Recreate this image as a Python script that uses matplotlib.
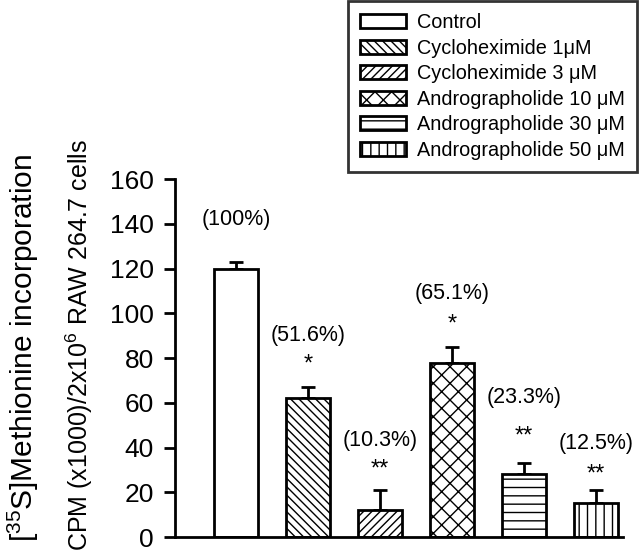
import matplotlib
matplotlib.use('Agg')
import matplotlib.pyplot as plt
from matplotlib.patches import Patch

plt.rcParams['font.family'] = ['Liberation Sans', 'DejaVu Sans']
plt.rcParams['mathtext.fontset'] = 'custom'
plt.rcParams['mathtext.rm'] = 'Liberation Sans'
plt.rcParams['mathtext.default'] = 'regular'
plt.rcParams['hatch.linewidth'] = 1.0

groups = ['Control', 'Cycloheximide 1\u03bcM', 'Cycloheximide 3 \u03bcM',
          'Andrographolide 10 \u03bcM', 'Andrographolide 30 \u03bcM',
          'Andrographolide 50 \u03bcM']
values = [120, 62, 12, 78, 28, 15]
errors = [3, 5, 9, 7, 5, 6]
pct_labels = ['(100%)', '(51.6%)', '(10.3%)', '(65.1%)', '(23.3%)', '(12.5%)']
pct_y = [142, 90, 43, 109, 62.5, 42]
stars = ['', '*', '**', '*', '**', '**']
star_y = [0, 77, 30, 95, 45, 28]
hatches = ['', '\\\\\\\\', '////', 'xx', '--', '||']
yticks = [0, 20, 40, 60, 80, 100, 120, 140, 160]

fig = plt.figure(figsize=(6.4, 5.55), dpi=100)
ax = fig.add_axes([0.273, 0.0324, 0.70, 0.6446])

x = range(len(groups))
bars = ax.bar(x, values, width=0.6, color='white', edgecolor='black',
              linewidth=2, zorder=2)
for b, h in zip(bars, hatches):
    b.set_hatch(h)
ax.errorbar(x, values, yerr=[[0] * len(values), errors], fmt='none',
            ecolor='black', elinewidth=2, capsize=5, capthick=2, zorder=1)

for i in x:
    ax.text(i, pct_y[i], pct_labels[i], ha='center', va='center', fontsize=15.5)
    if stars[i]:
        ax.text(i, star_y[i], stars[i], ha='center', va='center', fontsize=17)

ax.set_xlim(-0.85, 5.37)
ax.set_ylim(0, 160)
ax.set_yticks(yticks)
ax.set_xticks([])
ax.tick_params(axis='y', labelsize=19, width=2, length=8, pad=7)
for s in ['top', 'right']:
    ax.spines[s].set_visible(False)
for s in ['left', 'bottom']:
    ax.spines[s].set_linewidth(2)

fig.text(0.036, 0.373, r'[$^{35}$S]Methionine incorporation', rotation=90,
         ha='center', va='center', fontsize=21.5)
fig.text(0.124, 0.378, r'CPM (x1000)/2x10$^6$ RAW 264.7 cells', rotation=90,
         ha='center', va='center', fontsize=18)

handles = [Patch(facecolor='white', edgecolor='black', linewidth=2, hatch=h)
           for h in hatches]
leg = fig.legend(handles, groups, loc='upper right',
                 bbox_to_anchor=(0.995, 0.998), fontsize=14.3, frameon=True,
                 fancybox=False, edgecolor='black', handlelength=2.3,
                 handleheight=0.7, labelspacing=0.33, borderpad=0.6,
                 handletextpad=0.55, borderaxespad=0)
leg.get_frame().set_linewidth(2)

plt.savefig('out.png', dpi=100)
